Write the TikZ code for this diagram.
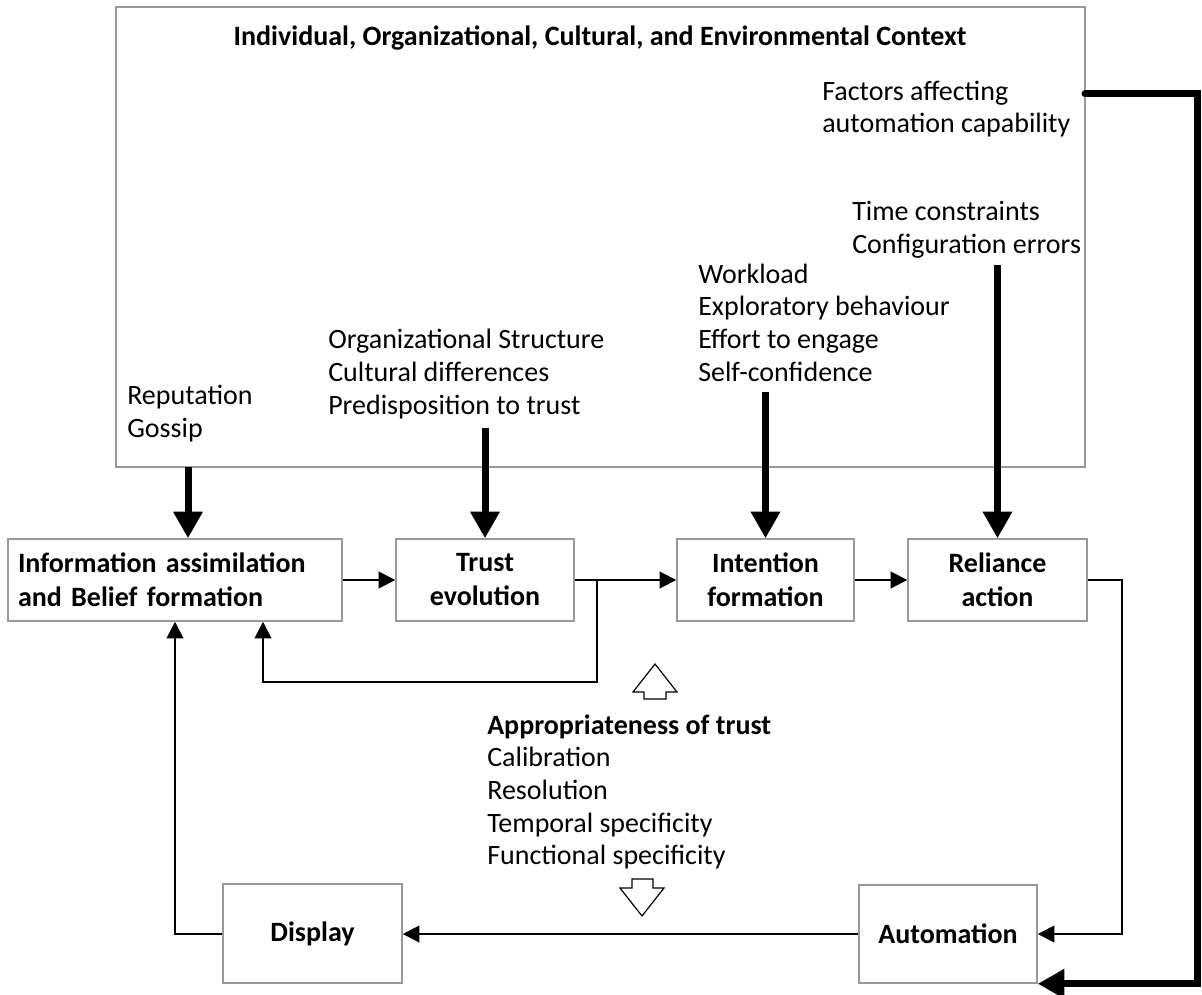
\documentclass[tikz,border=0pt]{standalone}
\usepackage{fontspec}
\setmainfont{Carlito}
\usetikzlibrary{arrows.meta,calc}
\begin{document}
\begin{tikzpicture}[x=0.75pt,y=-0.75pt,
  every node/.style={font=\fontsize{21}{24.5}\selectfont},
  box/.style={draw=black!40, line width=1.1pt, inner sep=0pt, align=center,
    font=\fontsize{21}{25.5}\selectfont\bfseries},
  flow/.style={line width=1.5pt, -{Triangle[length=12.5pt,width=12.5pt]}},
  influence/.style={line width=5.25pt, -{Triangle[length=20pt,width=21pt]}},
  listtext/.style={anchor=west, align=left, inner sep=0pt},
  hollow/.style={draw=black, line width=0.9pt, fill=white, line join=miter}
]
\useasboundingbox (0,0) rectangle (1202,995);

% context frame and its heading
\node[box, minimum width=726.75pt, minimum height=345pt] (ctx) at (600.5,237) {};
\node[font=\fontsize{21}{24.5}\selectfont\bfseries, inner sep=0pt] (title) at (600,38)
  {Individual, Organizational, Cultural, and Environmental Context};

% factor lists inside the frame
\node[listtext] (capab) at (822,109) {Factors affecting\\automation capability};
\node[listtext] (timecfg) at (852,229.5) {Time constraints\\Configuration errors};
\node[listtext] (work) at (698,322.5) {Workload\\Exploratory behaviour\\Effort to engage\\Self-confidence};
\node[listtext] (org) at (328,374) {Organizational Structure\\Cultural differences\\Predisposition to trust};
\node[listtext] (rep) at (127,413.5) {Reputation\\Gossip};

% process boxes
\node[box, text width=235.5pt, inner xsep=7.5pt, align=left, minimum height=61.5pt]
  (info) at (175,580) {Information assimilation\\and Belief formation};
\node[box, minimum width=133.5pt, minimum height=61.5pt] (trust) at (485,580) {Trust\\evolution};
\node[box, minimum width=132.75pt, minimum height=61.5pt] (intent) at (765.5,580) {Intention\\formation};
\node[box, minimum width=134.25pt, minimum height=61.5pt] (rel) at (997.5,580) {Reliance\\action};
\node[box, minimum width=134.25pt, minimum height=74.25pt] (disp) at (312.5,933.5) {Display};
\node[box, minimum width=133.5pt, minimum height=73.5pt] (auto) at (948,934) {Automation};

% appropriateness of trust
\node[listtext] (approp) at (487,791.8)
  {\textbf{Appropriateness of trust}\\Calibration\\Resolution\\Temporal specificity\\Functional specificity};

% main flow
\draw[flow] (info) -- (trust);
\draw[flow] (trust) -- (intent);
\draw[flow] (intent) -- (rel);
\coordinate (branch) at (597,580);
\coordinate (back) at (263,682);
\draw[flow] (branch) |- (back) -- (back |- info.south);
\coordinate (relturn) at (1122,580);
\draw[flow] (rel.east) -- (relturn) |- (auto.east);
\draw[flow] (auto.west) -- (auto.west -| disp.east);
\draw[flow] (disp.west) -| (info.south);

% context influences
\coordinate (c1) at (188,467);
\coordinate (c2) at (485,428);
\coordinate (c3) at (765.5,392);
\coordinate (c4) at (997.5,265);
\draw[influence] (c1) -- (c1 |- info.north);
\draw[influence] (c2) -- (trust.north);
\draw[influence] (c3) -- (intent.north);
\draw[influence] (c4) -- (rel.north);
\coordinate (capout) at (1085,94);
\coordinate (capturn) at (1197,94);
\draw[influence, line cap=round] (capout) -- (capturn) |- (auto.south east);

% open arrows around the appropriateness list
\draw[hollow] (655,664) -- (677,692) -- (666,692) -- (666,699) -- (644,699)
  -- (644,692) -- (633,692) -- cycle;
\draw[hollow] (632,879) -- (653,879) -- (653,888) -- (664,888) -- (642,916)
  -- (620,888) -- (632,888) -- cycle;
\end{tikzpicture}
\end{document}
